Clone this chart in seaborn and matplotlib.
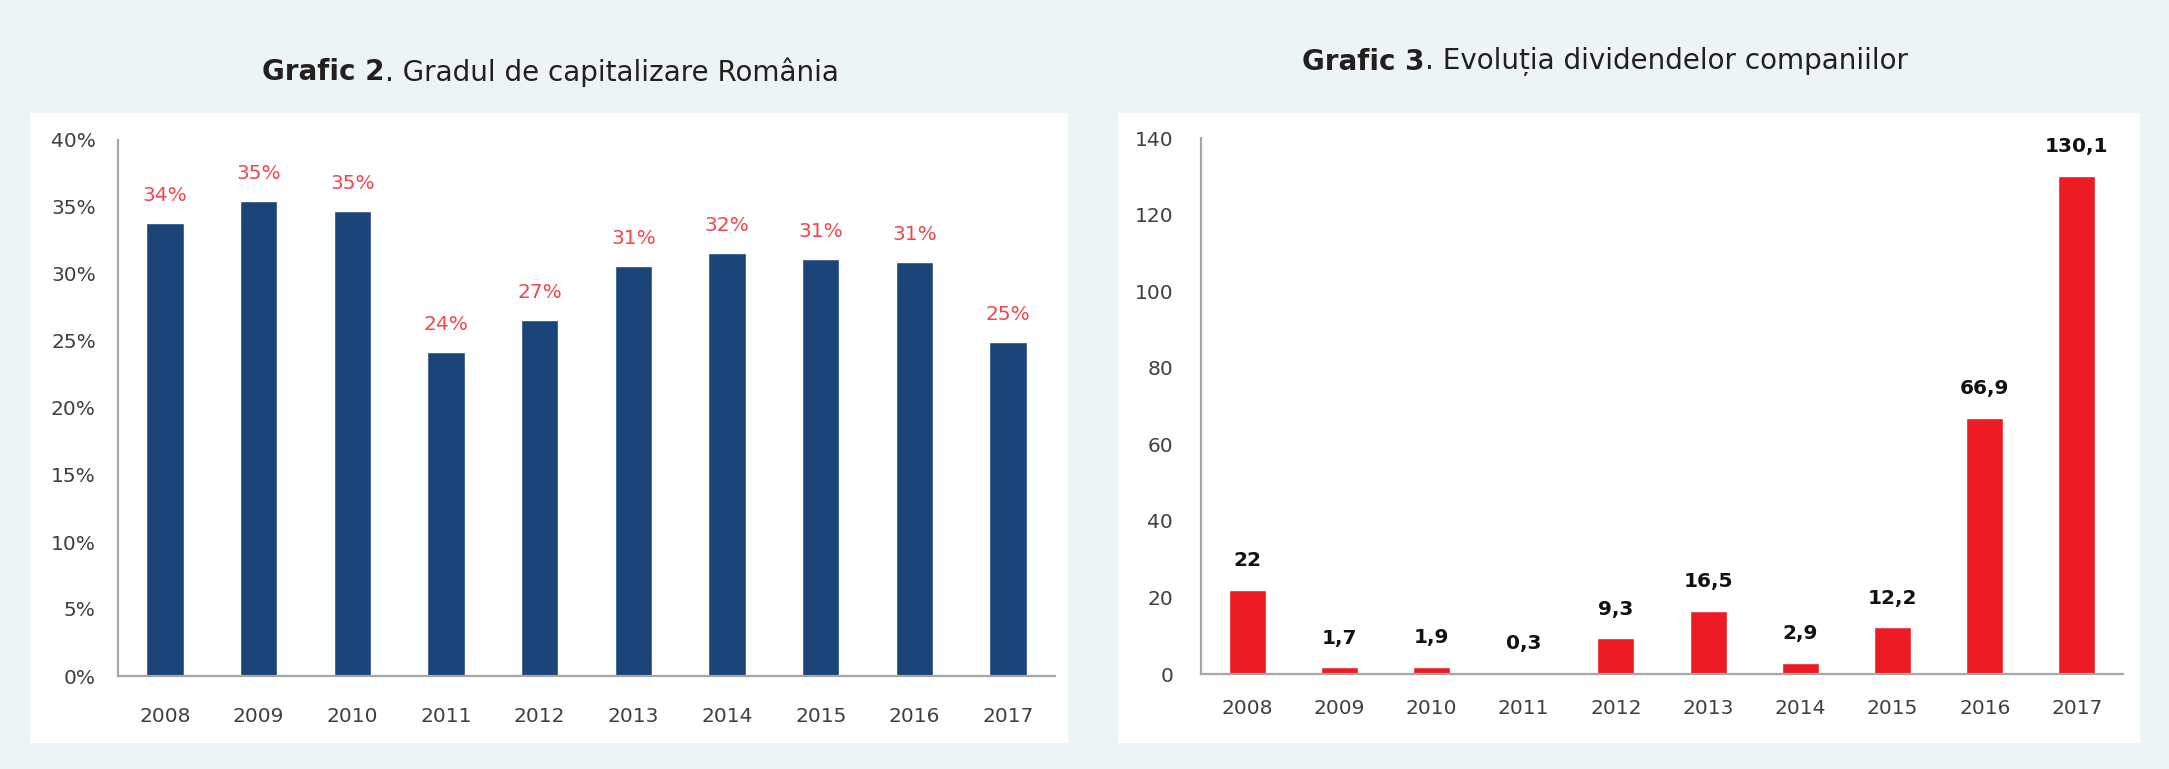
import matplotlib
matplotlib.use("Agg")
import matplotlib.pyplot as plt
from matplotlib.patches import Rectangle
import seaborn as sns
import pandas as pd

years = ["2008", "2009", "2010", "2011", "2012", "2013", "2014", "2015", "2016", "2017"]
capitalizare = [33.8, 35.45, 34.7, 24.2, 26.6, 30.6, 31.6, 31.1, 30.9, 24.9]
dividende = [22, 1.7, 1.9, 0.3, 9.3, 16.5, 2.9, 12.2, 66.9, 130.1]
left_yticks = [0, 5, 10, 15, 20, 25, 30, 35, 40]
right_yticks = [0, 20, 40, 60, 80, 100, 120, 140]

sns.set_theme(style="white")
plt.rcParams["font.family"] = ["DejaVu Sans"]

BG = "#ECF4F6"
NAVY = "#1B4479"
RED = "#ED1C24"
LABEL_RED = "#F2474F"
TICK_COL = "#3F3F3F"
SPINE = "#A6A6A6"

W, H = 2169, 769
fig = plt.figure(figsize=(W / 100, H / 100), dpi=100)
fig.patch.set_facecolor(BG)

# white panels
fig.patches.append(Rectangle((30 / W, 1 - 743 / H), 1038 / W, 630 / H,
                             transform=fig.transFigure, facecolor="white", edgecolor="none", zorder=-10))
fig.patches.append(Rectangle((1118 / W, 1 - 743 / H), 1022 / W, 630 / H,
                             transform=fig.transFigure, facecolor="white", edgecolor="none", zorder=-10))

ax1 = fig.add_axes([118 / W, 1 - 676 / H, 937 / W, 536 / H])
ax2 = fig.add_axes([1201 / W, 1 - 674 / H, 922 / W, 536 / H])
ax1.set_zorder(5)
ax2.set_zorder(5)

df1 = pd.DataFrame({"an": years, "val": capitalizare})
df2 = pd.DataFrame({"an": years, "val": dividende})

sns.barplot(data=df1, x="an", y="val", color=NAVY, saturation=1, width=0.40, ax=ax1)
sns.barplot(data=df2, x="an", y="val", color=RED, saturation=1, width=0.40, ax=ax2)


def style_axis(ax, yticks, ylabels, xpad, ypad):
    ax.set_facecolor("none")
    ax.patch.set_alpha(0)
    ax.set_xlim(-0.5, len(years) - 0.5)
    ax.set_ylim(yticks[0], yticks[-1])
    ax.set_yticks(yticks)
    ax.set_yticklabels(ylabels)
    ax.set_xlabel("")
    ax.set_ylabel("")
    for s in ["top", "right"]:
        ax.spines[s].set_visible(False)
    for s in ["left", "bottom"]:
        ax.spines[s].set_color(SPINE)
        ax.spines[s].set_linewidth(1.6)
    ax.set_xticks(range(len(years)))
    ax.set_xticklabels(years)
    ax.set_xticks([i - 0.5 for i in range(len(years) + 1)], minor=True)
    ax.tick_params(axis="x", which="major", length=0, pad=xpad, labelsize=14.5, labelcolor=TICK_COL)
    ax.tick_params(axis="x", which="minor", length=5, width=1.2, color=SPINE, direction="out")
    ax.tick_params(axis="y", which="major", length=6, width=1.2, color=SPINE, direction="out",
                   pad=ypad, labelsize=14.5, labelcolor=TICK_COL)
    ax.grid(False)


style_axis(ax1, left_yticks, [f"{t}%" for t in left_yticks], 22, 10)
style_axis(ax2, right_yticks, [str(t) for t in right_yticks], 18, 14)

for i, v in enumerate(capitalizare):
    ax1.annotate(f"{round(v)}%", (i, v), xytext=(0, 13), textcoords="offset points",
                 ha="center", va="bottom", fontsize=14.5, color=LABEL_RED)


def fmt(v):
    return str(int(v)) if float(v).is_integer() else f"{v:.1f}".replace(".", ",")


for i, v in enumerate(dividende):
    ax2.annotate(fmt(v), (i, v), xytext=(0, 14), textcoords="offset points",
                 ha="center", va="bottom", fontsize=14.5, color="#111111", fontweight="bold")

# titles
fig.text(385 / W, 1 - 72 / H, "Grafic 2", ha="right", va="center", fontsize=20,
         fontweight="bold", color="#231F20")
fig.text(385 / W, 1 - 72 / H, ". Gradul de capitalizare România", ha="left", va="center",
         fontsize=20, color="#231F20")
fig.text(1425 / W, 1 - 62 / H, "Grafic 3", ha="right", va="center", fontsize=20,
         fontweight="bold", color="#231F20")
fig.text(1425 / W, 1 - 62 / H, ". Evoluția dividendelor companiilor", ha="left", va="center",
         fontsize=20, color="#231F20")

fig.savefig("out.png", dpi=100, facecolor=BG)
